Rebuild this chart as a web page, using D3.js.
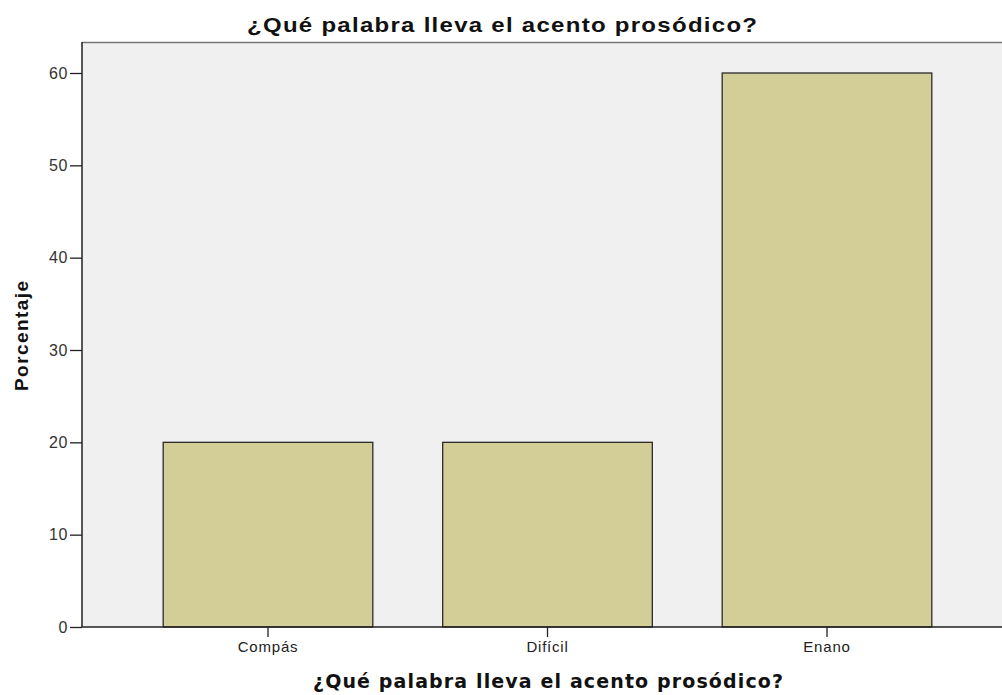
<!DOCTYPE html>
<html>
<head>
<meta charset="utf-8">
<script src="https://cdn.jsdelivr.net/npm/d3@7"></script>
<style>
  body { margin: 0; background: #fff; }
  svg { display: block; }
</style>
</head>
<body>
<div id="chart"></div>
<script>
// datos
const categorias = ["Compás", "Difícil", "Enano"];
const porcentajes = [20, 20, 60];
const yTicks = [0, 10, 20, 30, 40, 50, 60];
const titulo = "¿Qué palabra lleva el acento prosódico?";
const tituloX = "¿Qué palabra lleva el acento prosódico?";
const tituloY = "Porcentaje";

const W = 1002, H = 695;
const plot = {left: 82, top: 42, right: 1002, bottom: 627};
const fuente = "Liberation Sans, Arial, sans-serif";

const svg = d3.select("#chart")
    .append("svg")
    .attr("width", W)
    .attr("height", H);

// escalas
const x = d3.scaleBand()
    .domain(categorias)
    .range([128.25, 966.75])
    .paddingInner(0.25)
    .paddingOuter(0.125);

const y = d3.scaleLinear()
    .domain([0, 60])
    .range([plot.bottom, 73]);

// fondo del área de trazado
svg.append("rect")
    .attr("x", plot.left)
    .attr("y", plot.top)
    .attr("width", plot.right - plot.left)
    .attr("height", plot.bottom - plot.top)
    .attr("fill", "#f0f0f0");

svg.append("line")
    .attr("x1", plot.left).attr("x2", plot.right)
    .attr("y1", plot.top + 0.5).attr("y2", plot.top + 0.5)
    .attr("stroke", "#777").attr("stroke-width", 1.5);

// barras
svg.selectAll(".bar")
    .data(porcentajes)
    .enter()
    .append("rect")
    .attr("class", "bar")
    .attr("x", (d, i) => x(categorias[i]))
    .attr("y", d => y(d))
    .attr("width", x.bandwidth())
    .attr("height", d => y(0) - y(d))
    .attr("fill", "#d3ce97")
    .attr("stroke", "#2a2a2a")
    .attr("stroke-width", 1.3);

// eje Y
const yAxis = svg.append("g")
    .attr("transform", `translate(${plot.left},0)`)
    .call(d3.axisLeft(y).tickValues(yTicks).tickSize(12).tickPadding(2));
yAxis.select(".domain")
    .attr("d", `M0,${plot.top}V${plot.bottom}`)
    .attr("stroke", "#222").attr("stroke-width", 1.5);
yAxis.selectAll(".tick line").attr("stroke", "#222").attr("stroke-width", 1.3);
yAxis.selectAll(".tick text")
    .attr("fill", "#333")
    .style("font-family", fuente)
    .style("font-size", "16px")
    .style("letter-spacing", "0.6px");

// eje X
const xAxis = svg.append("g")
    .attr("transform", `translate(0,${plot.bottom})`)
    .call(d3.axisBottom(x).tickSize(10).tickPadding(4));
xAxis.select(".domain")
    .attr("d", `M${plot.left},0H${plot.right}`)
    .attr("stroke", "#222").attr("stroke-width", 1.5);
xAxis.selectAll(".tick line").attr("stroke", "#222").attr("stroke-width", 1.3);
xAxis.selectAll(".tick text")
    .attr("fill", "#222")
    .style("font-family", fuente)
    .style("font-size", "15px")
    .style("letter-spacing", "0.8px");

// títulos (el original está algo estirado en horizontal)
svg.append("g")
    .attr("transform", "translate(502,32) scale(1.2,1)")
    .append("text")
    .attr("text-anchor", "middle")
    .attr("textLength", 425)
    .attr("lengthAdjust", "spacing")
    .style("font-family", fuente)
    .style("font-size", "20px")
    .style("font-weight", "bold")
    .attr("fill", "#111")
    .text(titulo);

svg.append("text")
    .attr("x", 548)
    .attr("y", 688)
    .attr("text-anchor", "middle")
    .attr("textLength", 470)
    .attr("lengthAdjust", "spacing")
    .style("font-family", "DejaVu Sans, Verdana, sans-serif")
    .style("font-size", "19px")
    .style("font-weight", "bold")
    .attr("fill", "#111")
    .text(tituloX);

svg.append("text")
    .attr("transform", "translate(28,336) rotate(-90)")
    .attr("text-anchor", "middle")
    .attr("textLength", 110)
    .attr("lengthAdjust", "spacing")
    .style("font-family", fuente)
    .style("font-size", "19px")
    .style("font-weight", "bold")
    .attr("fill", "#111")
    .text(tituloY);
</script>
</body>
</html>
